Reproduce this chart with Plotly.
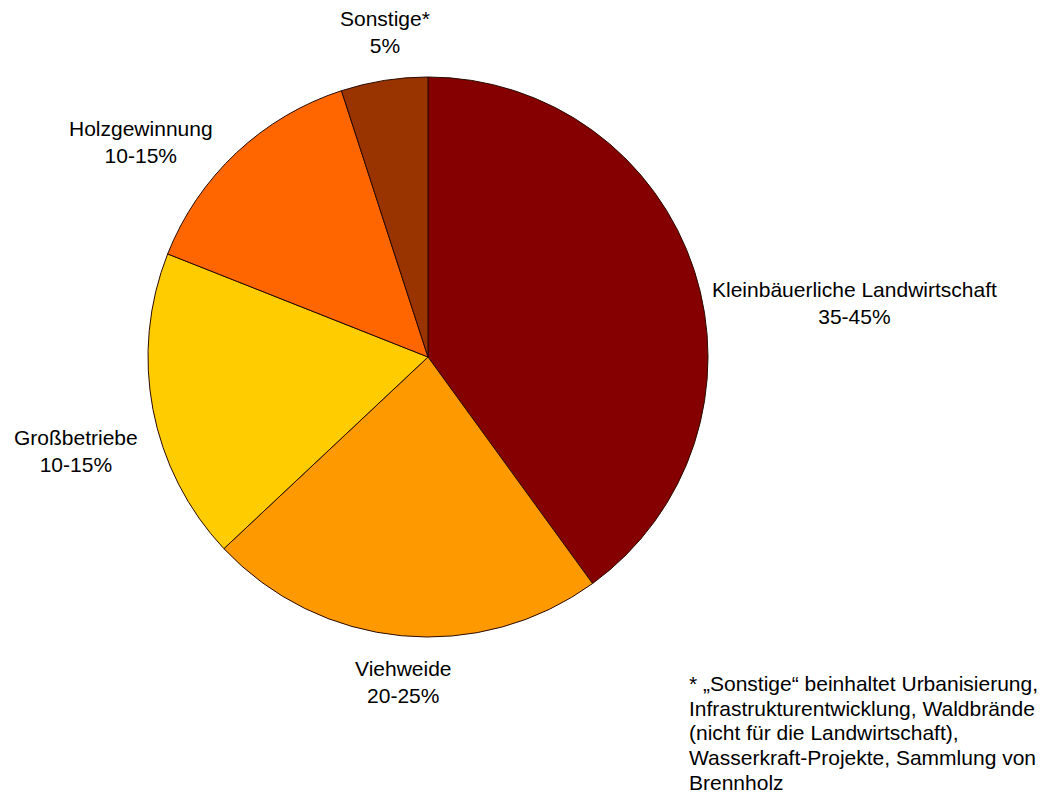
import plotly.graph_objects as go

W, H = 1063, 798
OFF = 8  # default page body margin

categories = ["Kleinbäuerliche Landwirtschaft", "Viehweide", "Großbetriebe", "Holzgewinnung", "Sonstige*"]
values = [40, 23, 18, 14, 5]
range_labels = ["35-45%", "20-25%", "10-15%", "10-15%", "5%"]
colors = ["#850000", "#FF9900", "#FFCC00", "#FF6600", "#993300"]
label_pos_px = [(854, 303), (403, 682), (76, 451), (141, 142), (385, 32)]

footnote_lines = [
    "* „Sonstige“ beinhaltet Urbanisierung,",
    "Infrastrukturentwicklung, Waldbrände",
    "(nicht für die Landwirtschaft),",
    "Wasserkraft-Projekte, Sammlung von",
    "Brennholz",
]
footnote_y_px = [683, 708, 732, 757, 782]

FONT = "Liberation Sans, Arial, sans-serif"


def fx(px):
    return (px - OFF) / W


def fy(py):
    return 1 - (py - OFF) / H


fig = go.Figure(go.Pie(
    labels=categories,
    values=values,
    sort=False,
    direction="clockwise",
    rotation=0,
    marker=dict(colors=colors, line=dict(color="#2a0a00", width=1)),
    textinfo="none",
    hoverinfo="label+percent",
    showlegend=False,
    domain=dict(x=[fx(148), fx(708)], y=[fy(637), fy(77)]),
))

annotations = []
for cat, rl, (px, py) in zip(categories, range_labels, label_pos_px):
    annotations.append(dict(
        text=f"{cat}<br>{rl}", x=fx(px), y=fy(py), xref="paper", yref="paper",
        xanchor="center", yanchor="middle", showarrow=False, align="center",
        borderpad=0,
        font=dict(family=FONT, size=21, color="#000000"),
    ))
for line, py in zip(footnote_lines, footnote_y_px):
    annotations.append(dict(
        text=line, x=fx(688), y=fy(py), xref="paper", yref="paper",
        xanchor="left", yanchor="middle", showarrow=False, align="left",
        borderpad=0,
        font=dict(family=FONT, size=21, color="#000000"),
    ))

fig.update_layout(
    width=W, height=H,
    margin=dict(l=0, r=0, t=0, b=0),
    paper_bgcolor="#FFFFFF", plot_bgcolor="#FFFFFF",
    annotations=annotations,
)

fig.write_html("out.html")
